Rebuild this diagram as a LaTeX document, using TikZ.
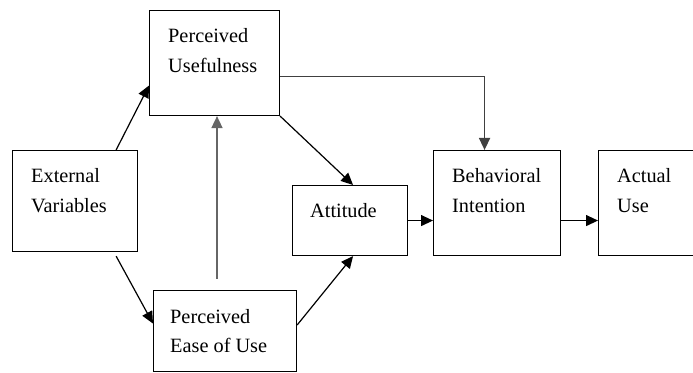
\documentclass[tikz,border=0pt]{standalone}
\usepackage{fontspec}
\setmainfont{Liberation Serif}
\usetikzlibrary{arrows.meta}

\begin{document}
\begin{tikzpicture}[x=1pt, y=1pt,
    box/.style={draw, line width=1.1pt, inner sep=0pt, anchor=north west},
    txt/.style={anchor=base west, align=left, inner sep=0pt,
        font=\fontsize{20.3}{29.5}\selectfont},
    arrow/.style={line width=1.2pt, -{Triangle[length=12pt, width=11pt]}}]

    \useasboundingbox (0, 0) rectangle (693, 372);

    % Make the boxes
    \node[box, minimum width=130pt, minimum height=105pt] (pu) at (149, 362) {};
    \node[box, minimum width=125pt, minimum height=101pt] (ev) at (12, 222) {};
    \node[box, minimum width=143pt, minimum height=81pt] (peou) at (153, 82) {};
    \node[box, minimum width=115pt, minimum height=70pt] (att) at (292, 187) {};
    \node[box, minimum width=127pt, minimum height=105pt] (bi) at (433, 222) {};
    \node[box, minimum width=125pt, minimum height=105pt] (au) at (598, 222) {};

    % Make the labels (base is the last line)
    \node[txt] (pu text) at ([shift={(19, -62.5)}]pu.north west) {Perceived\\Usefulness};
    \node[txt] (ev text) at ([shift={(19, -62.5)}]ev.north west) {External\\Variables};
    \node[txt] (peou text) at ([shift={(17, -62.5)}]peou.north west) {Perceived\\Ease of Use};
    \node[txt] (att text) at ([shift={(18, -33)}]att.north west) {Attitude};
    \node[txt] (bi text) at ([shift={(19, -62.5)}]bi.north west) {Behavioral\\Intention};
    \node[txt] (au text) at ([shift={(19, -62.5)}]au.north west) {Actual\\Use};

    % Make the arrows
    \draw[arrow] ([xshift=-22pt]ev.north east) -- ([yshift=-22.5pt]pu.west);
    \draw[arrow] ([shift={(-22pt, -4pt)}]ev.south east) -- ([yshift=7.5pt]peou.west);

    \coordinate (peou top) at (217, 93);
    \draw[arrow, black!60, line width=1.6pt] (peou top) -- (peou top |- pu.south);

    \draw[arrow] (pu.south east) -- ([xshift=3pt]att.north);
    \draw[arrow] ([yshift=6pt]peou.east) -- ([xshift=3pt]att.south);
    \draw[arrow, black!75, line width=1.5pt] ([yshift=-13.5pt]pu.east) -| ([xshift=-12.5pt]bi.north);
    \draw[arrow] (att.east) -- (att.east -| bi.west);
    \draw[arrow] ([yshift=-17.5pt]bi.east) -- ([yshift=-17.5pt]au.west);

\end{tikzpicture}
\end{document}
